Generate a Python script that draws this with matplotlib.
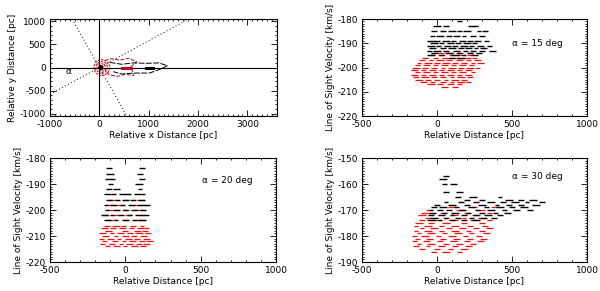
import numpy as np
import matplotlib
matplotlib.use("Agg")
import matplotlib.pyplot as plt
from matplotlib.patches import Ellipse
from matplotlib.ticker import MultipleLocator

plt.rcParams['font.family'] = 'DejaVu Sans'
plt.rcParams['axes.unicode_minus'] = False

# ---- panel 1 : face-on geometry ----
tl_xlim = (-1000, 3600)
tl_ylim = (-1050, 1050)
alpha_slopes = [0.58, -1.9]
tl_ring_x = [50, 50, 50, 40]
tl_ring_y = [0, 0, 0, 0]
tl_ring_w = [320, 230, 150, 80]
tl_ring_h = [340, 250, 160, 90]
tl_red_x = [110, 250, 420, 600, 760, 640, 700, 520, 380, 200, 110]
tl_red_y = [150, 190, 160, 200, 120, 20, -170, -150, -190, -160, -40]
tl_black_x = [210, 450, 700, 950, 1200, 1380, 1250, 1020, 700, 450, 280]
tl_black_y = [110, 70, 100, 90, 100, 40, -30, -120, -120, -140, -90]
tl_bar_red = (450, 640, 0)
tl_bar_black = (940, 1080, 0)

# ---- panels 2-4 : position-velocity contours (rows of contour dashes) ----
tr_black = [(-181, [150]), (-183, [0, 60, 230, 260]),
            (-185, [-20, 40, 100, 150, 200, 280, 320]),
            (-187, [-30, 20, 80, 130, 180, 240, 300]),
            (-189, [-40, 0, 60, 110, 170, 220, 270, 330]),
            (-190, [-20, 30, 90, 140, 200, 250]),
            (-191, [-40, 10, 70, 120, 180, 230, 290, 350]),
            (-192, [-30, 40, 100, 160, 210, 260, 310]),
            (-193, [-50, 0, 60, 130, 190, 240, 300, 370]),
            (-194, [-20, 80, 150, 220, 280]),
            (-195, [-40, 30, 120, 180, 250]),
            (-196, [100, 160])]
tr_red = [(-194, [20, 90, 150]), (-195, [-40, 30, 100, 160, 220]),
          (-196, [-80, -10, 60, 130, 200, 250]),
          (-197, [-100, -40, 20, 80, 150, 210, 270]),
          (-198, [-120, -60, 0, 60, 120, 180, 240, 290]),
          (-199, [-130, -70, -10, 50, 110, 170, 230]),
          (-200, [-140, -80, -20, 40, 100, 160, 220, 270]),
          (-201, [-150, -90, -30, 30, 90, 150, 210]),
          (-202, [-130, -70, -10, 50, 110, 170, 240]),
          (-203, [-150, -90, -30, 30, 90, 150, 210]),
          (-204, [-140, -80, -20, 40, 100, 160, 220]),
          (-205, [-120, -60, 0, 60, 120, 180]),
          (-206, [-90, -30, 40, 100, 160, 210]),
          (-207, [-40, 20, 90, 150]), (-208, [50, 120])]

bl_black = [(-184, [-110, 110]), (-186, [-100, 100]),
            (-188, [-110, -80, 110]), (-190, [-100, 90]),
            (-192, [-110, -60, 100]),
            (-194, [-120, -80, -20, 20, 80, 120]),
            (-196, [-110, -50, 0, 50, 110]),
            (-198, [-130, -80, -20, 40, 100, 140]),
            (-200, [-120, -60, 0, 60, 120]),
            (-202, [-140, -90, -30, 30, 90, 140]),
            (-204, [-120, -60, 0, 60, 110])]
bl_red = [(-196, [-90, 0, 100]), (-198, [-110, -30, 70, 120]),
          (-200, [-100, 0, 100]), (-202, [-130, -60, 20, 110]),
          (-204, [-100, 0, 90]), (-206, [-120, -60, -10, 50, 110]),
          (-207, [-140, -80, -20, 40, 100, 140]),
          (-208, [-110, 0, 80, 130]),
          (-209, [-150, -90, -30, 30, 90, 150]),
          (-210, [-130, -60, 0, 60, 120]),
          (-211, [-160, -100, -40, 20, 80, 140]),
          (-212, [-140, -70, -10, 50, 110, 160]),
          (-213, [-150, -90, -30, 30, 90, 140]),
          (-214, [-120, -60, 0, 60, 120])]

br_black = [(-157, [60]), (-158, [40]), (-160, [50, 110]), (-163, [60, 150]),
            (-165, [140, 240, 420]), (-166, [200, 300, 480, 560, 640]),
            (-167, [60, 160, 260, 360, 440, 520, 600, 700]),
            (-168, [0, 100, 200, 300, 400, 480, 560, 660]),
            (-169, [-20, 40, 130, 230, 330, 420, 500, 580]),
            (-170, [-40, 20, 80, 170, 270, 360, 450, 530, 620]),
            (-171, [-30, 50, 120, 210, 300, 390, 470]),
            (-172, [-40, 30, 100, 180, 260, 340, 420]),
            (-173, [-20, 60, 140, 230, 310, 380]),
            (-174, [-40, 20, 100, 180, 260])]
br_red = [(-169, [100, 250, 380]), (-170, [-60, 150, 300]),
          (-171, [-80, 40, 200, 350]), (-172, [-100, 120, 260]),
          (-173, [-60, 60, 180, 300]), (-174, [-100, 0, 120, 240, 350]),
          (-175, [-120, -40, 60, 180, 300]),
          (-176, [-140, -60, 30, 120, 220, 320]),
          (-177, [-100, -20, 80, 170, 260, 350]),
          (-178, [-140, -60, 30, 120, 210, 300]),
          (-179, [-120, -40, 50, 140, 230, 330]),
          (-180, [-150, -80, 10, 100, 190, 280]),
          (-181, [-130, -50, 40, 130, 220, 310]),
          (-182, [-150, -70, 20, 110, 200, 290]),
          (-183, [-120, -40, 60, 150, 240]),
          (-184, [-140, -60, 30, 120, 210]),
          (-185, [-100, 0, 90, 180]), (-186, [-20, 60, 150])]

pv_panels = [
    ('α = 15 deg', (-220, -180), tr_black, tr_red, (500, -190)),
    ('α = 20 deg', (-220, -180), bl_black, bl_red, (510, -188.5)),
    ('α = 30 deg', (-190, -150), br_black, br_red, (500, -157)),
]

FS = 6.5
RED = '#f01010'
DASH_SIZES = [30, 14, 22, 9, 26, 18]   # uneven contour-fragment lengths


def idl_axes(ax, xmaj, xmin, ymaj, ymin):
    ax.xaxis.set_major_locator(MultipleLocator(xmaj))
    ax.xaxis.set_minor_locator(MultipleLocator(xmin))
    ax.yaxis.set_major_locator(MultipleLocator(ymaj))
    ax.yaxis.set_minor_locator(MultipleLocator(ymin))
    ax.tick_params(which='both', direction='in', top=True, right=True,
                   labelsize=FS, width=0.6, pad=3)
    ax.tick_params(which='major', length=4)
    ax.tick_params(which='minor', length=1.5)
    for s in ax.spines.values():
        s.set_linewidth(0.8)


def flatten(rows):
    xs, ys = [], []
    for y, xlist in rows:
        xs += xlist
        ys += [y] * len(xlist)
    return xs, ys


def dash_sizes(n):
    return [DASH_SIZES[i % len(DASH_SIZES)] for i in range(n)]


fig = plt.figure(figsize=(6.0, 2.91), dpi=100)

# panel 1
ax = fig.add_axes([50 / 600, 1 - 116 / 291, 227 / 600, 97 / 291])
for sl in alpha_slopes:
    ax.axline((0, 0), slope=sl, color='black', ls=(0, (1, 2.5)), lw=0.7)
ax.axhline(0, color='black', lw=0.8)
ax.axvline(0, color='black', lw=0.8)
for cx, cy, w, h in zip(tl_ring_x, tl_ring_y, tl_ring_w, tl_ring_h):
    ax.add_patch(Ellipse((cx, cy), w, h, fill=False, ec='#d0101a', lw=0.8, ls=(0, (2, 1))))
ax.add_patch(Ellipse((30, 0), 60, 70, color='black'))
ax.plot(tl_red_x, tl_red_y, color='#b0102a', lw=0.7, ls=(0, (4, 1.5)))
ax.plot(tl_black_x, tl_black_y, color='black', lw=0.7, ls=(0, (6, 1.5)))
ax.plot(tl_bar_red[:2], [tl_bar_red[2]] * 2, color='#b0102a', lw=2.2)
ax.plot(tl_bar_black[:2], [tl_bar_black[2]] * 2, color='black', lw=2.2)
ax.text(-620, -80, 'α', fontsize=FS, ha='center', va='center')
ax.set_xlim(*tl_xlim)
ax.set_ylim(*tl_ylim)
idl_axes(ax, 1000, 100, 500, 100)
ax.set_xlabel('Relative x Distance [pc]', fontsize=FS, labelpad=1)
ax.set_ylabel('Relative y Distance [pc]', fontsize=FS, labelpad=2)

# panels 2-4
boxes = [[362 / 600, 1 - 116 / 291, 225 / 600, 97 / 291],
         [50 / 600, 1 - 262 / 291, 226 / 600, 104 / 291],
         [362 / 600, 1 - 262 / 291, 225 / 600, 104 / 291]]
for box, (label, ylim, black, red, txy) in zip(boxes, pv_panels):
    ax = fig.add_axes(box)
    rx, ry = flatten(red)
    bx, by = flatten(black)
    ax.scatter(rx, ry, s=dash_sizes(len(rx)), marker='_', linewidths=0.9, color=RED)
    ax.scatter(bx, by, s=dash_sizes(len(bx))[::-1], marker='_', linewidths=1.0, color='black')
    ax.text(txy[0], txy[1], label, fontsize=FS, ha='left', va='center')
    ax.set_xlim(-500, 1000)
    ax.set_ylim(*ylim)
    idl_axes(ax, 500, 100, 10, 1)
    ax.set_xlabel('Relative Distance [pc]', fontsize=FS, labelpad=1)
    ax.set_ylabel('Line of Sight Velocity [km/s]', fontsize=FS, labelpad=2)

fig.savefig('out.png', dpi=100)
